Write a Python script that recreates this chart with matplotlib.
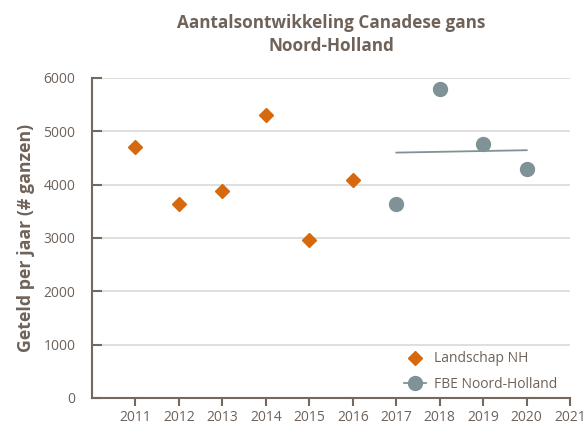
import matplotlib
matplotlib.use('Agg')
import matplotlib.pyplot as plt
from matplotlib.lines import Line2D

plt.rcParams['font.family'] = ['Open Sans', 'DejaVu Sans']

# Data
years_nh = [2011, 2012, 2013, 2014, 2015, 2016]
counts_nh = [4705, 3630, 3885, 5305, 2960, 4085]
years_fbe = [2017, 2018, 2019, 2020]
counts_fbe = [3630, 5800, 4765, 4285]
trend_years = [2017, 2020]
trend_vals = [4600, 4645]
xticks = list(range(2011, 2022))
yticks = [0, 1000, 2000, 3000, 4000, 5000, 6000]

txt = '#6e6259'
spine = '#75685c'
orange = '#d4690f'
grey = '#7f9396'

fig = plt.figure(figsize=(5.86, 4.26), dpi=100)
ax = fig.add_axes([0.157, 0.066, 0.816, 0.751])

ax.grid(axis='y', color='#d9d9d9', linewidth=1.2)
ax.set_axisbelow(True)

ax.plot(years_nh, counts_nh, linestyle='none', marker='D', markersize=7.5,
        color=orange, label='Landschap NH')
ax.plot(years_fbe, counts_fbe, linestyle='none', marker='o', markersize=10,
        color=grey)
ax.plot(trend_years, trend_vals, color=grey, linewidth=1.3)

ax.set_xlim(2010, 2021)
ax.set_ylim(0, 6000)
ax.set_xticks(xticks)
ax.set_yticks(yticks)

for s in ['top', 'right']:
    ax.spines[s].set_visible(False)
for s in ['left', 'bottom']:
    ax.spines[s].set_color(spine)
    ax.spines[s].set_linewidth(1.5)

ax.tick_params(axis='x', direction='out', length=6, width=1.5, color=spine,
               labelsize=10, labelcolor=txt, pad=3)
ax.tick_params(axis='y', direction='in', length=7, width=1.5, color=spine,
               labelsize=10, labelcolor=txt, pad=12)

ax.set_ylabel('Geteld per jaar (# ganzen)', fontsize=12.8, fontweight='bold',
              color=txt, labelpad=6)

# title is centred over the plot area, not the figure
fig.text(0.565, 0.968, 'Aantalsontwikkeling Canadese gans\nNoord-Holland',
         ha='center', va='top', fontsize=12.3, fontweight='bold', color=txt,
         linespacing=1.4)

handles = [
    Line2D([], [], linestyle='none', marker='D', markersize=7.5, color=orange),
    Line2D([], [], color=grey, linewidth=1.3, marker='o', markersize=10),
]
ax.legend(handles, ['Landschap NH', 'FBE Noord-Holland'], loc='lower right',
          bbox_to_anchor=(1.0, -0.02), frameon=False, fontsize=10,
          labelcolor=txt, handlelength=1.6, handletextpad=0.6, labelspacing=0.75)

fig.savefig('out.png', dpi=100, facecolor='white')
